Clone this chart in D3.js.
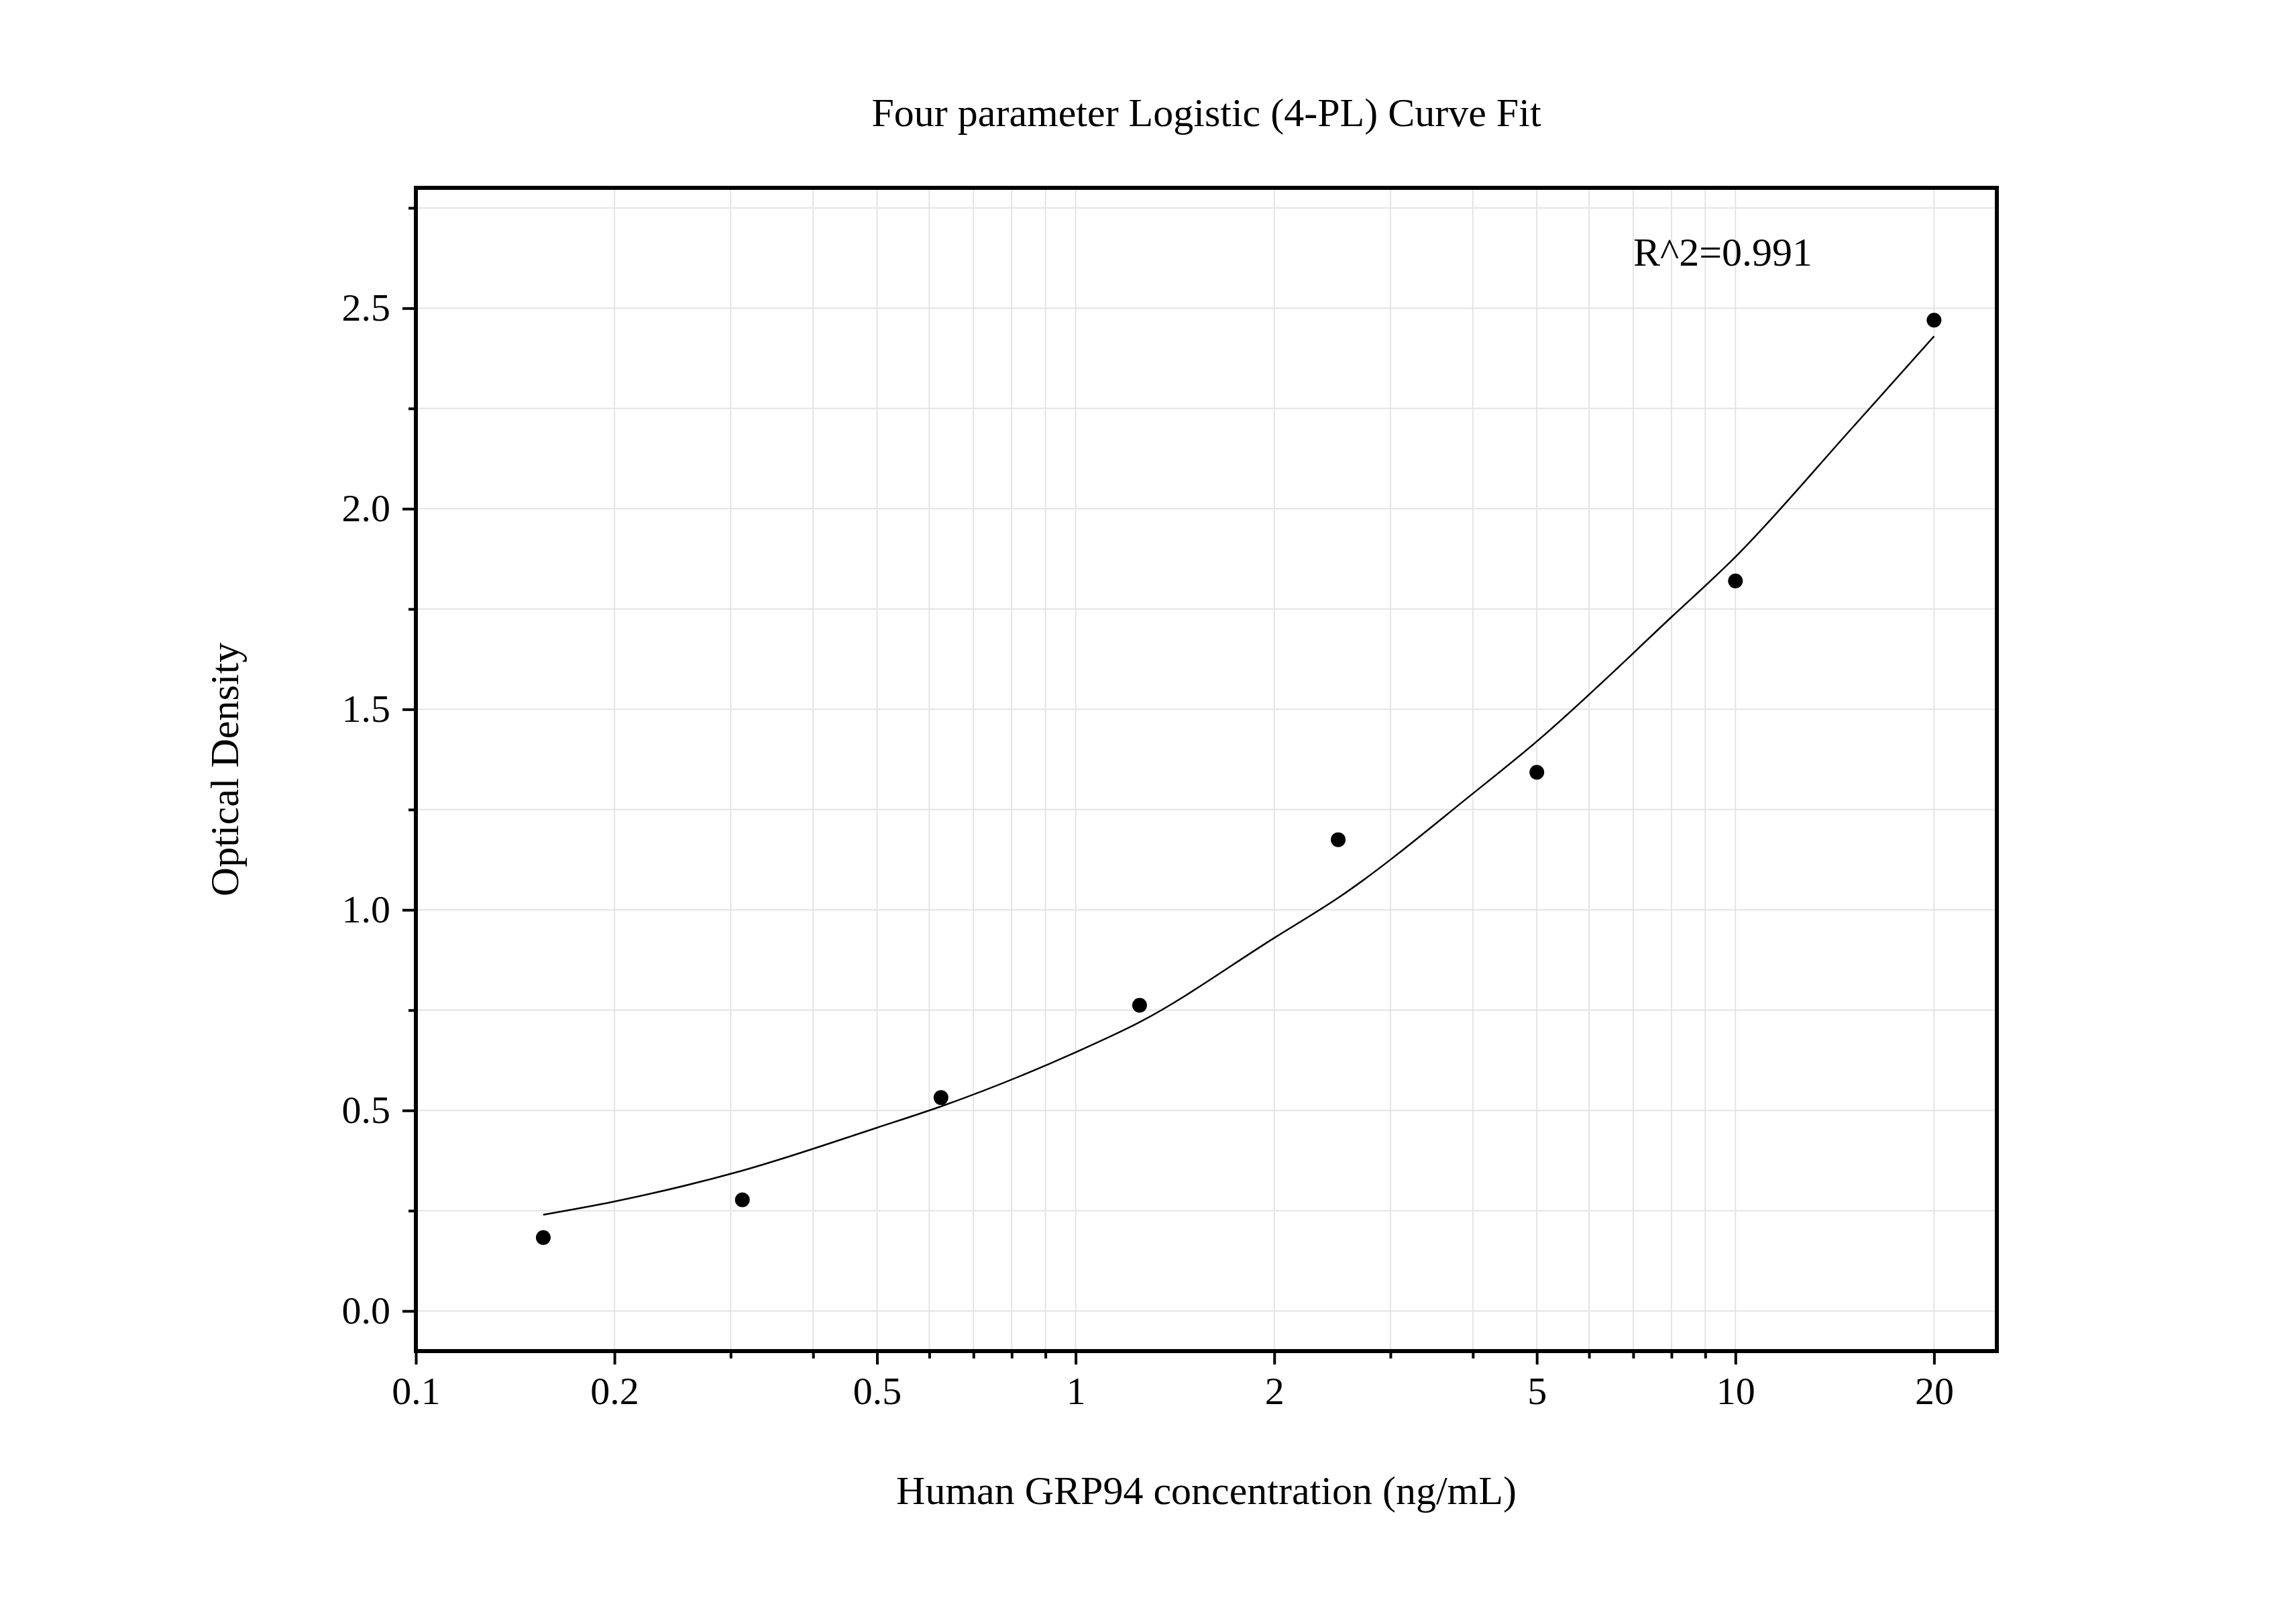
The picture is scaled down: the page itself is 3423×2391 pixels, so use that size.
<!DOCTYPE html>
<html><head><meta charset="utf-8">
<script src="https://cdn.jsdelivr.net/npm/d3@7"></script>
<style>body{margin:0;background:#fff}text{font-family:"Liberation Serif",serif}</style>
</head><body>
<svg id="chart" width="3423" height="2391"></svg>
<script>
// standard points
var conc = [0.156, 0.3125, 0.625, 1.25, 2.5, 5, 10, 20];
var od = [0.183, 0.277, 0.532, 0.762, 1.175, 1.343, 1.82, 2.47];
// fitted curve
var curveX = [0.156, 0.2, 0.3125, 0.5, 0.625, 1, 1.25, 2, 2.5, 4, 5, 8, 10, 15, 20];
var curveY = [0.24, 0.273, 0.35, 0.457, 0.51, 0.645, 0.72, 0.93, 1.03, 1.29, 1.42, 1.73, 1.88, 2.2, 2.43];
var xTicks = [0.1, 0.2, 0.5, 1, 2, 5, 10, 20];
var yTicks = [0, 0.5, 1, 1.5, 2, 2.5];

var svg = d3.select("#chart");
var L = 620, R = 2977, T = 280, B = 2014;
var x = d3.scaleLog().domain([0.1, 24.9]).range([L, R]);
var y = d3.scaleLinear().domain([-0.1, 2.8]).range([B, T]);

// minor x grid
var minorX = [];
[0.1, 1, 10].forEach(function(d) { for (var k = 1; k < 10; k++) { var v = d * k; if (v > 0.1 && v < 24.9) minorX.push(v); } });
svg.selectAll(".gx").data(minorX).enter().append("line")
  .attr("x1", d => x(d)).attr("x2", d => x(d)).attr("y1", T).attr("y2", B)
  .attr("stroke", "#e4e4e4").attr("stroke-width", 2);
var minorY = d3.range(0, 2.8, 0.25);
svg.selectAll(".gy").data(minorY).enter().append("line")
  .attr("x1", L).attr("x2", R).attr("y1", d => y(d)).attr("y2", d => y(d))
  .attr("stroke", "#e4e4e4").attr("stroke-width", 2);

// axes
var xAxis = d3.axisBottom(x).tickValues(xTicks).tickFormat(d3.format("~g")).tickSize(20).tickPadding(18);
var gx = svg.append("g").attr("transform", "translate(0," + B + ")").call(xAxis);
svg.append("g").attr("transform", "translate(0," + B + ")")
  .call(d3.axisBottom(x).tickValues(minorX.filter(v => xTicks.indexOf(v) < 0)).tickFormat("").tickSize(11))
  .select(".domain").remove();
var gy = svg.append("g").attr("transform", "translate(" + L + ",0)")
  .call(d3.axisLeft(y).tickValues(yTicks).tickFormat(d3.format(".1f")).tickSize(20).tickPadding(18));
svg.append("g").attr("transform", "translate(" + L + ",0)")
  .call(d3.axisLeft(y).tickValues(d3.range(0.25, 2.8, 0.5)).tickFormat("").tickSize(11))
  .select(".domain").remove();
svg.selectAll(".tick line").attr("stroke", "#000").attr("stroke-width", 4);
svg.selectAll(".domain").remove();
svg.selectAll(".tick text").attr("font-size", 58).attr("fill", "#000").style("font-family", "Liberation Serif");

svg.append("rect").attr("x", L).attr("y", T).attr("width", R - L).attr("height", B - T)
  .attr("fill", "none").attr("stroke", "#000").attr("stroke-width", 6);

// curve
var line = d3.line().x(d => x(d[0])).y(d => y(d[1])).curve(d3.curveMonotoneX);
svg.append("path").datum(d3.zip(curveX, curveY)).attr("d", line)
  .attr("fill", "none").attr("stroke", "#000").attr("stroke-width", 2.5);

svg.selectAll(".pt").data(d3.zip(conc, od)).enter().append("circle")
  .attr("cx", d => x(d[0])).attr("cy", d => y(d[1])).attr("r", 11).attr("fill", "#000");

// text
svg.append("text").attr("x", (L + R) / 2).attr("y", 188).attr("text-anchor", "middle")
  .attr("font-size", 60).text("Four parameter Logistic (4-PL) Curve Fit");
svg.append("text").attr("x", 2435).attr("y", 396).attr("font-size", 60).text("R^2=0.991");
svg.append("text").attr("x", (L + R) / 2).attr("y", 2242).attr("text-anchor", "middle")
  .attr("font-size", 60).text("Human GRP94 concentration (ng/mL)");
svg.append("text").attr("transform", "translate(355," + (T + B) / 2 + ") rotate(-90)")
  .attr("text-anchor", "middle").attr("font-size", 60).text("Optical Density");
</script>
</body></html>
